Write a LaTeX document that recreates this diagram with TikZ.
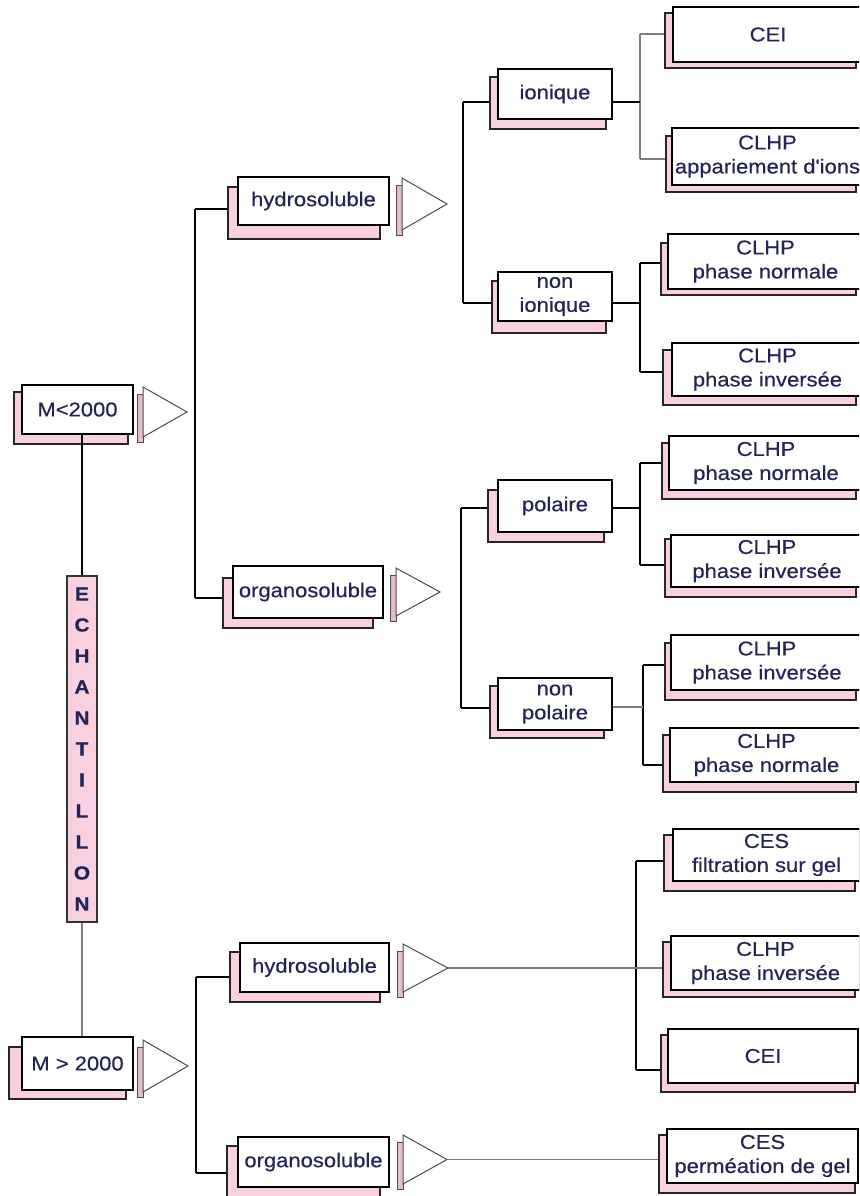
\documentclass[tikz,border=0pt]{standalone}
\usepackage{fontspec}
\newfontfamily\lab[FakeStretch=1.1,FakeBold=0.4]{Liberation Sans}
\usetikzlibrary{fit}
\definecolor{navy}{RGB}{35,35,85}
\definecolor{shpink}{RGB}{248,208,224}
\definecolor{stripc}{RGB}{230,188,205}
\definecolor{gline}{RGB}{125,125,125}
\tikzset{
 frontbox/.style={draw=black, line width=1.2pt, fill=white, inner sep=0pt},
 shadowbox/.style={draw=black!85, line width=1.2pt, fill=shpink, inner sep=0pt},
 lbl/.style={font=\lab\fontsize{20}{24}\selectfont, text=navy, align=center, inner sep=0pt},
 conn/.style={draw=black, line width=1.1pt},
 thickconn/.style={draw=black, line width=2.4pt},
 gconn/.style={draw=gline, line width=1.1pt},
 tri/.style={draw=black!70, line width=1pt, fill=white, line join=miter},
 tstrip/.style={draw=black!70, line width=0.9pt, fill=stripc},
}
% name, front corner 1, front corner 2, shadow corner 1, shadow corner 2, text
\newcommand\pbox[6]{%
  \node[shadowbox, fit={#4 #5}] (#1-s) {};
  \node[frontbox, fit={#2 #3}] (#1) {};
  \node[lbl] (#1-t) at (#1.center) {#6};
}
% name, strip left x, top y, bottom y, apex x
\newcommand\ptri[5]{%
  \path[tstrip] (#2,#3+7) rectangle (#2+6,#4+5);
  \draw[tri] (#2+6,#3) -- (#5,{(#3+#4)/2}) -- (#2+6,#4) -- cycle;
  \coordinate (#1) at (#5,{(#3+#4)/2});
}
\begin{document}
\begin{tikzpicture}[x=1pt,y=-1pt]
\useasboundingbox (0,0) rectangle (859,1196);
\fill[white] (0,0) rectangle (859,1196);
\clip (0,0) rectangle (859,1196);

% ---- level 0
\pbox{m1}{(22,385)}{(133,434)}{(14,392)}{(128,444)}{M<2000}
\pbox{m2}{(22,1037)}{(133,1090)}{(9,1047)}{(126,1099)}{M > 2000}
\ptri{m1tip}{137}{387}{437}{187}
\ptri{m2tip}{137}{1040}{1092}{188}

\node[draw=black!80, line width=1.2pt, fill=shpink, minimum width=30pt,
  minimum height=346pt, inner sep=0pt,
  font=\lab\bfseries\fontsize{19}{31}\selectfont, text=navy, align=center]
  (echant) at (82,749) {E\\C\\H\\A\\N\\T\\I\\L\\L\\O\\N};
\draw[conn] (echant.north) -- (echant.north |- m1.south);
\draw[gconn] (echant.south) -- (echant.south |- m2.north);

% ---- level 1
\pbox{hyd1}{(238,177)}{(389,225)}{(228,187)}{(380,239)}{hydrosoluble}
\pbox{org1}{(233,566)}{(383,618)}{(223,578)}{(373,628)}{organosoluble}
\pbox{hyd2}{(240,943)}{(389,992)}{(230,952)}{(380,1002)}{hydrosoluble}
\pbox{org2}{(238,1137)}{(389,1187)}{(227,1146)}{(380,1202)}{organosoluble}
\ptri{hyd1tip}{396}{178}{230}{447}
\ptri{org1tip}{390}{568}{616}{440}
\ptri{hyd2tip}{397}{944}{992}{448}
\ptri{org2tip}{397}{1135}{1184}{447}

\coordinate (ja) at (195,209);
\coordinate (jb) at (195,598);
\draw[conn] (ja) -- (jb);
\draw[conn] (ja) -- (ja -| hyd1-s.west);
\draw[conn] (jb) -- (jb -| org1-s.west);
\coordinate (jc) at (196,977);
\coordinate (jd) at (196,1173);
\draw[conn] (jc) -- (jd);
\draw[conn] (jc) -- (jc -| hyd2-s.west);
\draw[conn] (jd) -- (jd -| org2-s.west);

% ---- level 2
\pbox{ion}{(498,69)}{(612,119)}{(490,77)}{(606,129)}{ionique}
\pbox{nion}{(498,272)}{(612,321)}{(492,281)}{(606,333)}{non\\ionique}
\pbox{pol}{(498,480)}{(612,532)}{(488,490)}{(604,542)}{polaire}
\pbox{npol}{(498,678)}{(612,730)}{(490,686)}{(604,738)}{non\\polaire}

\coordinate (ka) at (463,102);
\coordinate (kb) at (463,303);
\draw[conn] (ka) -- (kb);
\draw[conn] (ka) -- (ka -| ion-s.west);
\draw[conn] (kb) -- (kb -| nion-s.west);
\coordinate (kc) at (461,508);
\coordinate (kd) at (461,708);
\draw[thickconn] (kc) -- (kd);
\draw[conn] (kc) -- (kc -| pol-s.west);
\draw[conn] (kd) -- (kd -| npol-s.west);

% ---- level 3
\pbox{cei1}{(673,7)}{(863,62)}{(665,13)}{(856,68)}{CEI}
\pbox{app}{(672,128)}{(863,185)}{(666,136)}{(856,192)}{CLHP\\appariement d'ions}
\pbox{pn1}{(668,234)}{(863,289)}{(661,243)}{(856,295)}{CLHP\\phase normale}
\pbox{pi1}{(672,343)}{(863,396)}{(663,350)}{(856,405)}{CLHP\\phase inversée}
\pbox{pn2}{(669,436)}{(863,490)}{(662,443)}{(856,499)}{CLHP\\phase normale}
\pbox{pi2}{(671,535)}{(863,587)}{(665,539)}{(856,597)}{CLHP\\phase inversée}
\pbox{pi3}{(671,635)}{(863,690)}{(665,643)}{(856,700)}{CLHP\\phase inversée}
\pbox{pn3}{(670,728)}{(863,782)}{(663,735)}{(856,792)}{CLHP\\phase normale}
\pbox{ces1}{(673,829)}{(860,881)}{(664,835)}{(855,891)}{CES\\filtration sur gel}
\pbox{pi4}{(671,936)}{(860,990)}{(663,942)}{(855,997)}{CLHP\\phase inversée}
\pbox{cei2}{(668,1029)}{(858,1083)}{(661,1035)}{(855,1092)}{CEI}
\pbox{ces2}{(667,1129)}{(858,1183)}{(659,1135)}{(855,1193)}{CES\\perméation de gel}

% ionique group (gray)
\coordinate (la) at (640,34);
\coordinate (lb) at (640,159);
\coordinate (lc) at (640,102);
\draw[gconn] (la) -- (lb);
\draw[gconn] (la) -- (la -| cei1-s.west);
\draw[gconn] (lb) -- (lb -| app-s.west);
\draw[conn] (lc -| ion.east) -- (lc);
% non ionique group
\coordinate (ma) at (640,263);
\coordinate (mb) at (640,372);
\coordinate (mc) at (640,303);
\draw[conn] (ma) -- (mb);
\draw[conn] (ma) -- (ma -| pn1-s.west);
\draw[conn] (mb) -- (mb -| pi1-s.west);
\draw[conn] (mc -| nion.east) -- (mc);
% polaire group
\coordinate (na) at (640,463);
\coordinate (nb) at (640,565);
\coordinate (nc) at (640,508);
\draw[conn] (na) -- (nb);
\draw[conn] (na) -- (na -| pn2-s.west);
\draw[conn] (nb) -- (nb -| pi2-s.west);
\draw[conn] (nc -| pol.east) -- (nc);
% non polaire group
\coordinate (oa) at (643,665);
\coordinate (ob) at (643,765);
\coordinate (oc) at (643,707);
\draw[conn] (oa) -- (ob);
\draw[conn] (oa) -- (oa -| pi3-s.west);
\draw[thickconn] (ob) -- (ob -| pn3-s.west);
\draw[gconn] (oc -| npol.east) -- (oc);
% M>2000 hydrosoluble group
\coordinate (pa) at (636,861);
\coordinate (pb) at (636,1070);
\draw[conn] (pa) -- (pb);
\draw[thickconn] (pa) -- (pa -| ces1-s.west);
\draw[conn] (pb) -- (pb -| cei2-s.west);
\draw[gconn] (hyd2tip) -- (hyd2tip -| pi4-s.west);
% M>2000 organosoluble
\draw[gconn] (org2tip) -- (org2tip -| ces2-s.west);
\end{tikzpicture}
\end{document}
